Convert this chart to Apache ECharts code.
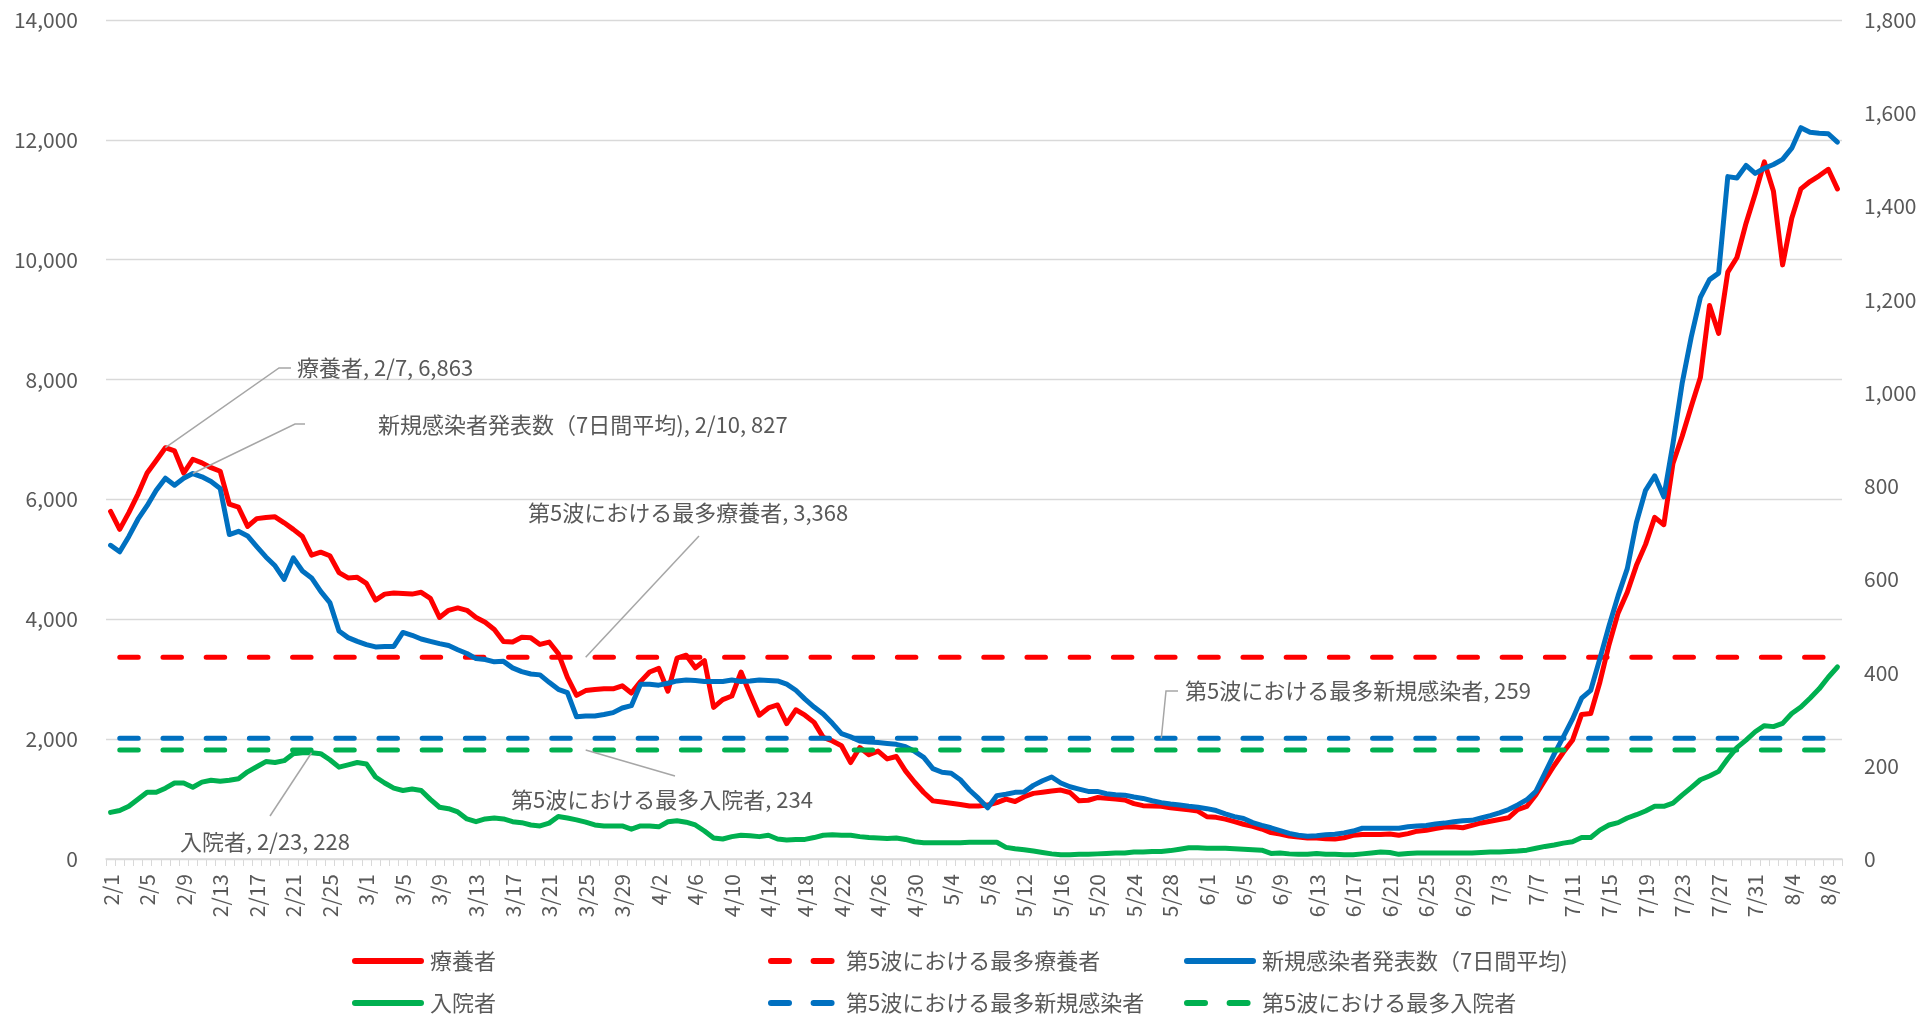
<!DOCTYPE html>
<html>
<head>
<meta charset="utf-8">
<script src="https://cdn.jsdelivr.net/npm/echarts@6/dist/echarts.min.js"></script>
<style>html,body{margin:0;padding:0;background:#fff}#c{width:1925px;height:1016px}</style>
</head>
<body>
<div id="c"></div>
<script>
const categories = [
'2/1','2/2','2/3','2/4','2/5','2/6','2/7','2/8','2/9','2/10','2/11','2/12','2/13','2/14','2/15','2/16','2/17','2/18','2/19','2/20','2/21','2/22','2/23','2/24','2/25','2/26','2/27','2/28',
'3/1','3/2','3/3','3/4','3/5','3/6','3/7','3/8','3/9','3/10','3/11','3/12','3/13','3/14','3/15','3/16','3/17','3/18','3/19','3/20','3/21','3/22','3/23','3/24','3/25','3/26','3/27','3/28','3/29','3/30','3/31',
'4/1','4/2','4/3','4/4','4/5','4/6','4/7','4/8','4/9','4/10','4/11','4/12','4/13','4/14','4/15','4/16','4/17','4/18','4/19','4/20','4/21','4/22','4/23','4/24','4/25','4/26','4/27','4/28','4/29','4/30',
'5/1','5/2','5/3','5/4','5/5','5/6','5/7','5/8','5/9','5/10','5/11','5/12','5/13','5/14','5/15','5/16','5/17','5/18','5/19','5/20','5/21','5/22','5/23','5/24','5/25','5/26','5/27','5/28','5/29','5/30','5/31',
'6/1','6/2','6/3','6/4','6/5','6/6','6/7','6/8','6/9','6/10','6/11','6/12','6/13','6/14','6/15','6/16','6/17','6/18','6/19','6/20','6/21','6/22','6/23','6/24','6/25','6/26','6/27','6/28','6/29','6/30',
'7/1','7/2','7/3','7/4','7/5','7/6','7/7','7/8','7/9','7/10','7/11','7/12','7/13','7/14','7/15','7/16','7/17','7/18','7/19','7/20','7/21','7/22','7/23','7/24','7/25','7/26','7/27','7/28','7/29','7/30','7/31',
'8/1','8/2','8/3','8/4','8/5','8/6','8/7','8/8','8/9'
];

// 療養者 (left axis)
const ryoyosha = [
5800,5500,5780,6090,6440,6650,6863,6810,6440,6670,
6610,6530,6470,5920,5870,5550,5680,5700,5710,5610,
5500,5380,5070,5120,5060,4780,4690,4700,4600,4320,
4420,4440,4430,4420,4450,4350,4030,4150,4190,4150,
4030,3950,3830,3630,3620,3700,3690,3580,3620,3430,
3030,2730,2810,2830,2840,2840,2890,2770,2960,3120,
3180,2800,3350,3400,3190,3310,2530,2660,2720,3120,
2750,2400,2520,2570,2260,2490,2400,2280,2030,1970,
1890,1610,1860,1740,1800,1670,1710,1470,1280,1110,
970,950,930,910,885,885,900,940,1000,960,
1040,1095,1115,1135,1150,1110,970,980,1025,1015,
1000,985,925,890,885,880,855,840,820,800,
705,695,665,625,580,545,500,440,418,384,
367,350,350,338,332,355,395,407,407,407,
418,395,424,464,481,510,533,539,521,562,
602,630,659,688,825,877,1072,1320,1560,1780,
1980,2413,2429,2950,3575,4107,4450,4900,5250,5701,
5578,6601,7050,7550,8033,9235,8769,9792,10037,10609,
11100,11632,11141,9914,10691,11182,11305,11400,11509,11182
];

// 新規感染者発表数（7日間平均) (right axis)
const shinki = [
673,659,692,729,758,791,817,802,817,827,
820,810,795,696,703,693,670,648,629,600,
646,618,603,574,550,489,475,467,460,455,
456,456,486,480,472,467,462,458,449,441,
430,428,423,424,410,402,397,395,379,364,
357,305,307,307,310,314,324,329,375,375,
373,377,382,384,383,381,381,381,384,381,
382,384,383,382,375,362,343,326,311,291,
269,262,253,251,250,248,246,241,231,218,
194,186,184,170,148,130,110,136,139,143,
144,158,168,176,163,155,150,145,145,140,
138,137,133,130,125,121,118,116,113,111,
108,104,97,91,87,78,72,67,61,55,
51,49,50,52,53,56,60,66,66,66,
66,66,69,71,72,75,77,80,82,83,
88,93,99,106,116,127,145,185,225,262,
300,345,362,430,500,565,623,722,791,822,
777,891,1020,1120,1205,1243,1257,1464,1461,1488,
1471,1482,1490,1501,1525,1569,1559,1557,1556,1538
];

// 入院者 (right axis)
const nyuin = [
100,104,113,128,143,143,152,163,163,154,
165,169,167,169,172,187,198,209,207,211,
226,228,228,226,213,197,202,207,204,176,
163,152,147,150,147,128,111,108,101,86,
80,86,88,86,80,78,73,71,77,91,
88,84,79,73,71,71,71,64,71,71,
69,80,82,79,73,60,45,43,48,51,
50,48,51,43,41,42,42,46,51,52,
51,51,48,46,45,44,45,42,37,35,
35,35,35,35,36,36,36,36,25,22,
20,17,14,11,9,9,10,10,11,12,
13,13,15,15,16,16,18,21,24,24,
23,23,23,22,21,20,19,12,13,11,
10,10,12,10,10,9,9,11,13,15,
14,10,12,13,13,13,13,13,13,13,
14,15,15,16,17,19,23,27,30,34,
37,46,46,62,73,78,88,95,103,113,
113,120,137,153,170,178,188,215,239,255,
273,286,284,291,312,326,345,365,390,412
];

// 第5波における最多 (reference levels)
const maxRyoyo = 3368;
const maxShinki = 259;
const maxNyuin = 234;

const leftAxis = {min: 0, max: 14000, interval: 2000};
const rightAxis = {min: 0, max: 1800, interval: 200};

const seriesNames = ['療養者','第5波における最多療養者','新規感染者発表数（7日間平均)','入院者','第5波における最多新規感染者','第5波における最多入院者'];

const FONT = "'Noto Sans CJK JP', 'Noto Sans', sans-serif";
const TXT = '#595959';
const RED = '#FF0000', BLUE = '#0070C0', GREEN = '#00B050';

const levelRyoyo = categories.map(() => maxRyoyo);
const levelShinki = categories.map(() => maxShinki);
const levelNyuin = categories.map(() => maxNyuin);

const seriesData = [ryoyosha, levelRyoyo, shinki, nyuin, levelShinki, levelNyuin];

function solid(name, data, color, yIdx, z) {
  return {name, type: 'line', data, yAxisIndex: yIdx, symbol: 'none', showSymbol: false,
    lineStyle: {color, width: 5, cap: 'round', join: 'round'}, itemStyle: {color}, z, animation: false};
}
function dashed(name, data, color, yIdx, z) {
  return {name, type: 'line', data, yAxisIndex: yIdx, symbol: 'none', showSymbol: false,
    lineStyle: {color, width: 5, type: [18.5, 24.7], dashOffset: 34, cap: 'round'}, itemStyle: {color}, z, animation: false};
}

const fmt = v => v.toLocaleString('en-US');

// legend icons: thick rounded line, or two rounded dashes
const ICON_SOLID = 'path://M3,0H69A3,3 0 0 1 69,6H3A3,3 0 0 1 3,0Z M72.9,2.9h0.1v0.1h-0.1Z';
const ICON_DASH = 'path://M3,0H21A3,3 0 0 1 21,6H3A3,3 0 0 1 3,0Z M45.6,0H63.6A3,3 0 0 1 63.6,6H45.6A3,3 0 0 1 45.6,0Z M72.9,2.9h0.1v0.1h-0.1Z';

function legendAt(name, left, top, icon) {
  return {data: [name], left, top, padding: 0, itemWidth: 73, itemHeight: 6, icon,
    textStyle: {fontSize: 22, color: TXT, fontFamily: FONT}, selectedMode: false};
}

const option = {
  animation: false,
  backgroundColor: '#fff',
  textStyle: {fontFamily: FONT},
  grid: {left: 106, right: 83, top: 20, bottom: 157, containLabel: false},
  xAxis: {
    type: 'category', data: categories, boundaryGap: true,
    axisLine: {lineStyle: {color: '#d9d9d9', width: 1.5}},
    axisTick: {show: true, interval: 0, length: 7, lineStyle: {color: '#d9d9d9', width: 1}},
    axisLabel: {interval: 3, rotate: 90, fontSize: 21, color: TXT, margin: 15, fontFamily: FONT},
    splitLine: {show: false}
  },
  yAxis: [
    {type: 'value', min: leftAxis.min, max: leftAxis.max, interval: leftAxis.interval,
     axisLine: {show: false}, axisTick: {show: false},
     axisLabel: {fontSize: 21, color: TXT, margin: 28, formatter: fmt, fontFamily: FONT},
     splitLine: {lineStyle: {color: '#d9d9d9', width: 1.3}}},
    {type: 'value', min: rightAxis.min, max: rightAxis.max, interval: rightAxis.interval,
     axisLine: {show: false}, axisTick: {show: false},
     axisLabel: {fontSize: 21, color: TXT, margin: 22, formatter: fmt, fontFamily: FONT},
     splitLine: {show: false}}
  ],
  legend: [
    legendAt(seriesNames[0], 352, 950, ICON_SOLID),
    legendAt(seriesNames[1], 768, 950, ICON_DASH),
    legendAt(seriesNames[2], 1184, 950, ICON_SOLID),
    legendAt(seriesNames[3], 352, 992, ICON_SOLID),
    legendAt(seriesNames[4], 768, 992, ICON_DASH),
    legendAt(seriesNames[5], 1184, 992, ICON_DASH)
  ],
  series: [
    solid(seriesNames[0], ryoyosha, RED, 0, 2),
    dashed(seriesNames[1], levelRyoyo, RED, 0, 2),
    solid(seriesNames[2], shinki, BLUE, 1, 3),
    solid(seriesNames[3], nyuin, GREEN, 1, 3),
    dashed(seriesNames[4], levelShinki, BLUE, 1, 3),
    dashed(seriesNames[5], levelNyuin, GREEN, 1, 3)
  ]
};

const chart = echarts.init(document.getElementById('c'), null, {renderer: 'canvas'});
chart.setOption(option);

// data-label annotations with leader lines (anchors from the chart's own scales)
const annotations = [
  {s: 0, i: 6,   text: '療養者, 2/7, 6,863', tx: 297, ty: 368, via: [[279, 368], [291, 368]]},
  {s: 2, i: 9,   text: '新規感染者発表数（7日間平均), 2/10, 827', tx: 378, ty: 425, via: [[295, 424], [305, 424]]},
  {s: 1, i: 52,  text: '第5波における最多療養者, 3,368', tx: 528, ty: 513, via: [[699, 536]]},
  {s: 4, i: 115, text: '第5波における最多新規感染者, 259', tx: 1185, ty: 691, via: [[1166, 691], [1178, 691]]},
  {s: 5, i: 52,  text: '第5波における最多入院者, 234', tx: 511, ty: 800, via: [[675, 776]]},
  {s: 3, i: 22,  text: '入院者, 2/23, 228', tx: 180, ty: 842, via: [[270, 816]]}
];
const g = [];
annotations.forEach(a => {
  const p = chart.convertToPixel({seriesIndex: a.s}, [a.i, seriesData[a.s][a.i]]);
  g.push({type: 'polyline', silent: true, z: 20,
    shape: {points: [p].concat(a.via)},
    style: {stroke: '#a6a6a6', lineWidth: 1.5, fill: null}});
  g.push({type: 'text', silent: true, z: 20, x: a.tx, y: a.ty,
    style: {text: a.text, fill: TXT, fontSize: 22, fontFamily: FONT, verticalAlign: 'middle', align: 'left'}});
});
chart.setOption({graphic: g});
</script>
</body>
</html>
